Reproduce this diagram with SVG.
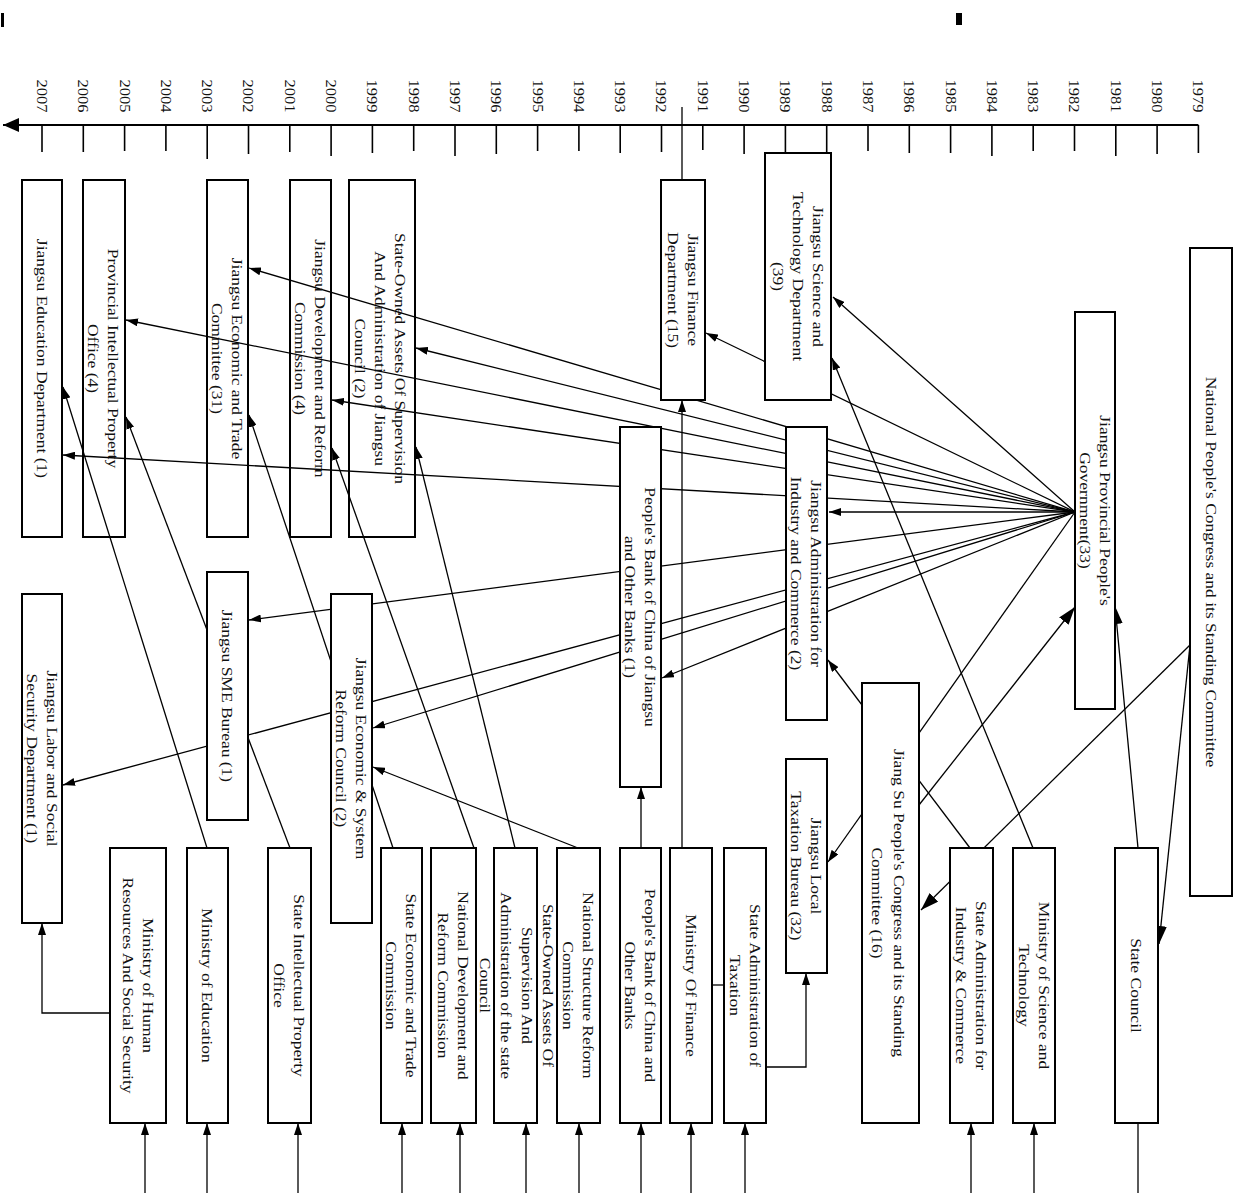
<svg xmlns="http://www.w3.org/2000/svg" width="1242" height="1193" viewBox="0 0 1242 1193">
<style>
.bx{stroke:#000;stroke-width:2;fill:#fff}
.bn{stroke:#000;stroke-width:2;fill:none}
.t{font-family:"Liberation Serif","Times New Roman",serif;font-size:14px;fill:#111;text-anchor:middle;dominant-baseline:central}
.yr{font-family:"Liberation Serif","Times New Roman",serif;font-size:14px;fill:#111;text-anchor:middle;dominant-baseline:central}
.c{stroke:#000;stroke-width:1.3;fill:none;marker-end:url(#a)}
.cl{stroke:#000;stroke-width:1.3;fill:none;marker-end:url(#A)}
.p{stroke:#000;stroke-width:1.3;fill:none}
.tk{stroke:#000;stroke-width:1.6}
</style>
<defs>
<marker id="a" viewBox="0 0 12 8" refX="12" refY="4" markerWidth="12" markerHeight="8" markerUnits="userSpaceOnUse" orient="auto"><path d="M0,0 L12,4 L0,8 z" fill="#000"/></marker>
<marker id="A" viewBox="0 0 18 12" refX="18" refY="6" markerWidth="18" markerHeight="12" markerUnits="userSpaceOnUse" orient="auto"><path d="M0,0 L18,6 L0,12 z" fill="#000"/></marker>
<marker id="ax" viewBox="0 0 16 14" refX="16" refY="7" markerWidth="16" markerHeight="14" markerUnits="userSpaceOnUse" orient="auto"><path d="M0,0 L16,7 L0,14 z" fill="#000"/></marker>
</defs>
<rect width="1242" height="1193" fill="#fff"/>
<rect x="1" y="13" width="3" height="14" fill="#000"/>
<rect x="956" y="13" width="6" height="12" fill="#000"/>

<g id="timeline">
<line x1="1198.4" y1="125" x2="3" y2="125" stroke="#000" stroke-width="2" marker-end="url(#ax)"/>
<g class="tk">
<line x1="42" y1="125" x2="42" y2="152"/><line x1="83.3" y1="125" x2="83.3" y2="152"/><line x1="124.6" y1="125" x2="124.6" y2="151"/><line x1="165.9" y1="125" x2="165.9" y2="151"/><line x1="207.2" y1="125" x2="207.2" y2="159"/><line x1="248.5" y1="125" x2="248.5" y2="154"/><line x1="289.8" y1="125" x2="289.8" y2="152"/><line x1="331.1" y1="125" x2="331.1" y2="156"/><line x1="372.4" y1="125" x2="372.4" y2="153"/><line x1="413.7" y1="125" x2="413.7" y2="151"/><line x1="455" y1="125" x2="455" y2="156"/><line x1="496.3" y1="125" x2="496.3" y2="154"/><line x1="537.6" y1="125" x2="537.6" y2="151"/><line x1="578.9" y1="125" x2="578.9" y2="151"/><line x1="620.2" y1="125" x2="620.2" y2="153"/><line x1="661.5" y1="125" x2="661.5" y2="152"/><line x1="702.8" y1="125" x2="702.8" y2="150"/><line x1="744.1" y1="125" x2="744.1" y2="154"/><line x1="785.4" y1="125" x2="785.4" y2="153"/><line x1="826.7" y1="125" x2="826.7" y2="153"/><line x1="868" y1="125" x2="868" y2="151"/><line x1="909.3" y1="125" x2="909.3" y2="153"/><line x1="950.6" y1="125" x2="950.6" y2="153"/><line x1="991.9" y1="125" x2="991.9" y2="156"/><line x1="1033.2" y1="125" x2="1033.2" y2="151"/><line x1="1074.5" y1="125" x2="1074.5" y2="151"/><line x1="1115.8" y1="125" x2="1115.8" y2="156"/><line x1="1157.1" y1="125" x2="1157.1" y2="154"/><line x1="1198.4" y1="125" x2="1198.4" y2="153"/>
</g>
<g class="yr">
<text transform="translate(42,96) rotate(90) scale(1.18,1)">2007</text>
<text transform="translate(83.3,96) rotate(90) scale(1.18,1)">2006</text>
<text transform="translate(124.6,96) rotate(90) scale(1.18,1)">2005</text>
<text transform="translate(165.9,96) rotate(90) scale(1.18,1)">2004</text>
<text transform="translate(207.2,96) rotate(90) scale(1.18,1)">2003</text>
<text transform="translate(248.5,96) rotate(90) scale(1.18,1)">2002</text>
<text transform="translate(289.8,96) rotate(90) scale(1.18,1)">2001</text>
<text transform="translate(331.1,96) rotate(90) scale(1.18,1)">2000</text>
<text transform="translate(372.4,96) rotate(90) scale(1.18,1)">1999</text>
<text transform="translate(413.7,96) rotate(90) scale(1.18,1)">1998</text>
<text transform="translate(455,96) rotate(90) scale(1.18,1)">1997</text>
<text transform="translate(496.3,96) rotate(90) scale(1.18,1)">1996</text>
<text transform="translate(537.6,96) rotate(90) scale(1.18,1)">1995</text>
<text transform="translate(578.9,96) rotate(90) scale(1.18,1)">1994</text>
<text transform="translate(620.2,96) rotate(90) scale(1.18,1)">1993</text>
<text transform="translate(661.5,96) rotate(90) scale(1.18,1)">1992</text>
<text transform="translate(702.8,96) rotate(90) scale(1.18,1)">1991</text>
<text transform="translate(744.1,96) rotate(90) scale(1.18,1)">1990</text>
<text transform="translate(785.4,96) rotate(90) scale(1.18,1)">1989</text>
<text transform="translate(826.7,96) rotate(90) scale(1.18,1)">1988</text>
<text transform="translate(868,96) rotate(90) scale(1.18,1)">1987</text>
<text transform="translate(909.3,96) rotate(90) scale(1.18,1)">1986</text>
<text transform="translate(950.6,96) rotate(90) scale(1.18,1)">1985</text>
<text transform="translate(991.9,96) rotate(90) scale(1.18,1)">1984</text>
<text transform="translate(1033.2,96) rotate(90) scale(1.18,1)">1983</text>
<text transform="translate(1074.5,96) rotate(90) scale(1.18,1)">1982</text>
<text transform="translate(1115.8,96) rotate(90) scale(1.18,1)">1981</text>
<text transform="translate(1157.1,96) rotate(90) scale(1.18,1)">1980</text>
<text transform="translate(1198.4,96) rotate(90) scale(1.18,1)">1979</text>
</g>
</g>

<g id="connectors">
<line class="c" x1="1075" y1="512" x2="833" y2="297"/>
<line class="c" x1="1075" y1="512" x2="706" y2="333"/>
<line class="c" x1="1075" y1="512" x2="249" y2="268"/>
<line class="c" x1="1075" y1="512" x2="416" y2="348"/>
<line class="c" x1="1075" y1="512" x2="126" y2="320"/>
<line class="c" x1="1075" y1="512" x2="332" y2="400"/>
<line class="c" x1="1075" y1="512" x2="63" y2="455"/>
<line class="c" x1="1075" y1="512" x2="829" y2="512"/>
<line class="c" x1="1075" y1="512" x2="662" y2="678"/>
<line class="c" x1="1075" y1="512" x2="249" y2="620"/>
<line class="c" x1="1075" y1="512" x2="373" y2="728"/>
<line class="c" x1="1075" y1="512" x2="63" y2="785"/>
<line class="c" x1="1075" y1="512" x2="828" y2="862"/>
<line class="c" x1="207" y1="848" x2="63" y2="387"/>
<line class="c" x1="290" y1="848" x2="126" y2="417"/>
<line class="c" x1="393" y1="848" x2="249" y2="415"/>
<line class="c" x1="474" y1="848" x2="332" y2="448"/>
<line class="c" x1="515" y1="848" x2="416" y2="447"/>
<line class="c" x1="578" y1="848" x2="373" y2="767"/>
<line class="c" x1="641" y1="848" x2="641" y2="787"/>
<line class="c" x1="682" y1="848" x2="682" y2="400"/>
<line class="p" x1="682" y1="180" x2="682" y2="107"/>
<line class="c" x1="970" y1="848" x2="828" y2="660"/>
<line class="c" x1="1033" y1="848" x2="832" y2="358"/>
<line class="cl" x1="1138" y1="848" x2="1115" y2="606"/>
<line class="cl" x1="919" y1="805" x2="1075" y2="607"/>
<line class="cl" x1="1190" y1="645" x2="921" y2="910"/>
<line class="cl" x1="1190" y1="645" x2="1159" y2="944"/>
<polyline class="c" points="110,1013 42,1013 42,923"/>
<polyline class="c" points="766,1067 806,1067 806,973"/>
<line class="p" x1="712" y1="985" x2="724" y2="985"/>
<line class="c" x1="145" y1="1193" x2="145" y2="1123"/>
<line class="c" x1="207" y1="1193" x2="207" y2="1123"/>
<line class="c" x1="298" y1="1193" x2="298" y2="1123"/>
<line class="c" x1="402" y1="1193" x2="402" y2="1123"/>
<line class="c" x1="460" y1="1193" x2="460" y2="1123"/>
<line class="c" x1="526" y1="1193" x2="526" y2="1123"/>
<line class="c" x1="579" y1="1193" x2="579" y2="1123"/>
<line class="c" x1="641" y1="1193" x2="641" y2="1123"/>
<line class="c" x1="691" y1="1193" x2="691" y2="1123"/>
<line class="c" x1="745" y1="1193" x2="745" y2="1123"/>
<line class="c" x1="971" y1="1193" x2="971" y2="1123"/>
<line class="c" x1="1034" y1="1193" x2="1034" y2="1123"/>
<line class="p" x1="1138" y1="1123" x2="1138" y2="1193"/>
</g>

<g id="n-edu"><rect class="bx" x="22" y="180" width="40" height="357"/>
<text class="t" transform="translate(42,358.5) rotate(90) scale(1.25,1)"><tspan x="0" y="0">Jiangsu Education Department (1)</tspan></text></g>
<g id="n-ipo"><rect class="bn" x="83" y="180" width="42" height="357"/>
<text class="t" transform="translate(103,358.5) rotate(90) scale(1.25,1)"><tspan x="0" y="-10">Provincial Intellectual Property</tspan><tspan x="0" y="10">Office (4)</tspan></text></g>
<g id="n-etc"><rect class="bn" x="207" y="180" width="41" height="357"/>
<text class="t" transform="translate(227.5,358.5) rotate(90) scale(1.25,1)"><tspan x="0" y="-10">Jiangsu Economic and Trade</tspan><tspan x="0" y="10">Committee (31)</tspan></text></g>
<g id="n-drc"><rect class="bn" x="290" y="180" width="41" height="357"/>
<text class="t" transform="translate(310.5,358.5) rotate(90) scale(1.25,1)"><tspan x="0" y="-10">Jiangsu Development and Reform</tspan><tspan x="0" y="10">Commission (4)</tspan></text></g>
<g id="n-sasacjs"><rect class="bn" x="349" y="180" width="66" height="357"/>
<text class="t" transform="translate(380,358.5) rotate(90) scale(1.25,1)"><tspan x="0" y="-20">State-Owned Assets Of Supervision</tspan><tspan x="0" y="0">And Administration of Jiangsu</tspan><tspan x="0" y="20">Council (2)</tspan></text></g>
<g id="n-fin"><rect class="bx" x="661" y="180" width="44" height="220"/>
<text class="t" transform="translate(683,290) rotate(90) scale(1.25,1)"><tspan x="0" y="-10">Jiangsu Finance</tspan><tspan x="0" y="10">Department (15)</tspan></text></g>
<g id="n-sci"><rect class="bx" x="765" y="153" width="66" height="247"/>
<text class="t" transform="translate(798,276.5) rotate(90) scale(1.25,1)"><tspan x="0" y="-20">Jiangsu Science and</tspan><tspan x="0" y="0">Technology Department</tspan><tspan x="0" y="20">(39)</tspan></text></g>
<g id="n-pbcjs"><rect class="bx" x="620" y="427" width="41" height="360"/>
<text class="t" transform="translate(640.5,607) rotate(90) scale(1.25,1)"><tspan x="0" y="-10">People's Bank of China of Jiangsu</tspan><tspan x="0" y="10">and Other Banks (1)</tspan></text></g>
<g id="n-aic"><rect class="bx" x="786" y="427" width="41" height="293"/>
<text class="t" transform="translate(806.5,573.5) rotate(90) scale(1.25,1)"><tspan x="0" y="-10">Jiangsu Administration for</tspan><tspan x="0" y="10">Industry and Commerce (2)</tspan></text></g>
<g id="n-gov"><rect class="bx" x="1075" y="312" width="40" height="397"/>
<text class="t" transform="translate(1095,510.5) rotate(90) scale(1.25,1)"><tspan x="0" y="-10">Jiangsu Provincial People's</tspan><tspan x="0" y="10">Government(33)</tspan></text></g>
<g id="n-npc"><rect class="bx" x="1190" y="248" width="42" height="648"/>
<text class="t" transform="translate(1211,572) rotate(90) scale(1.25,1)"><tspan x="0" y="0">National People's Congress and its Standing Committee</tspan></text></g>
<g id="n-sme"><rect class="bx" x="207" y="572" width="41" height="248"/>
<text class="t" transform="translate(227.5,696) rotate(90) scale(1.25,1)"><tspan x="0" y="0">Jiangsu SME Bureau (1)</tspan></text></g>
<g id="n-erc"><rect class="bx" x="331" y="594" width="41" height="329"/>
<text class="t" transform="translate(351.5,758.5) rotate(90) scale(1.25,1)"><tspan x="0" y="-10">Jiangsu Economic &amp; System</tspan><tspan x="0" y="10">Reform Council (2)</tspan></text></g>
<g id="n-labor"><rect class="bx" x="22" y="594" width="40" height="329"/>
<text class="t" transform="translate(42,758.5) rotate(90) scale(1.25,1)"><tspan x="0" y="-10">Jiangsu Labor and Social</tspan><tspan x="0" y="10">Security Department (1)</tspan></text></g>
<g id="n-ltax"><rect class="bx" x="786" y="759" width="41" height="214"/>
<text class="t" transform="translate(806.5,866) rotate(90) scale(1.25,1)"><tspan x="0" y="-10">Jiangsu Local</tspan><tspan x="0" y="10">Taxation Bureau (32)</tspan></text></g>
<g id="n-jspc"><rect class="bx" x="862" y="683" width="57" height="440"/>
<text class="t" transform="translate(888,903) rotate(90) scale(1.25,1)"><tspan x="0" y="-11">Jiang Su People's Congress and its Standing</tspan><tspan x="0" y="11">Committee  (16)</tspan></text></g>
<g id="n-mhr"><rect class="bx" x="110" y="848" width="56" height="275"/>
<text class="t" transform="translate(138,985.5) rotate(90) scale(1.25,1)"><tspan x="0" y="-10">Ministry of Human</tspan><tspan x="0" y="10">Resources And Social Security</tspan></text></g>
<g id="n-moe"><rect class="bx" x="187" y="848" width="41" height="275"/>
<text class="t" transform="translate(207.5,985.5) rotate(90) scale(1.25,1)"><tspan x="0" y="0">Ministry of Education</tspan></text></g>
<g id="n-sipo"><rect class="bx" x="268" y="848" width="43" height="275"/>
<text class="t" transform="translate(289.5,985.5) rotate(90) scale(1.25,1)"><tspan x="0" y="-10">State Intellectual Property</tspan><tspan x="0" y="10">Office</tspan></text></g>
<g id="n-setc"><rect class="bx" x="381" y="848" width="41" height="275"/>
<text class="t" transform="translate(401.5,985.5) rotate(90) scale(1.25,1)"><tspan x="0" y="-10">State Economic and Trade</tspan><tspan x="0" y="10">Commission</tspan></text></g>
<g id="n-ndrc"><rect class="bx" x="431" y="848" width="45" height="275"/>
<text class="t" transform="translate(453.5,985.5) rotate(90) scale(1.25,1)"><tspan x="0" y="-10">National Development and</tspan><tspan x="0" y="10">Reform Commission</tspan></text></g>
<g id="n-sasac"><rect class="bx" x="494" y="848" width="43" height="275"/>
<text class="t" transform="translate(517,985.5) rotate(90) scale(1.25,1)"><tspan x="0" y="-31.5">State-Owned Assets Of</tspan><tspan x="0" y="-10.5">Supervision And</tspan><tspan x="0" y="10.5">Administration of the state</tspan><tspan x="0" y="31.5">Council</tspan></text></g>
<g id="n-nsrc"><rect class="bx" x="557" y="848" width="43" height="275"/>
<text class="t" transform="translate(578.5,985.5) rotate(90) scale(1.25,1)"><tspan x="0" y="-10">National Structure Reform</tspan><tspan x="0" y="10">Commission</tspan></text></g>
<g id="n-pbc"><rect class="bx" x="620" y="848" width="41" height="275"/>
<text class="t" transform="translate(640.5,985.5) rotate(90) scale(1.25,1)"><tspan x="0" y="-10">People's Bank of China and</tspan><tspan x="0" y="10">Other Banks</tspan></text></g>
<g id="n-mof"><rect class="bx" x="670" y="848" width="42" height="275"/>
<text class="t" transform="translate(691,985.5) rotate(90) scale(1.25,1)"><tspan x="0" y="0">Ministry Of Finance</tspan></text></g>
<g id="n-sat"><rect class="bx" x="724" y="848" width="42" height="275"/>
<text class="t" transform="translate(745,985.5) rotate(90) scale(1.25,1)"><tspan x="0" y="-10">State Administration of</tspan><tspan x="0" y="10">Taxation</tspan></text></g>
<g id="n-saic"><rect class="bx" x="950" y="848" width="43" height="275"/>
<text class="t" transform="translate(971.5,985.5) rotate(90) scale(1.25,1)"><tspan x="0" y="-10">State Administration for</tspan><tspan x="0" y="10">Industry &amp; Commerce</tspan></text></g>
<g id="n-most"><rect class="bx" x="1013" y="848" width="42" height="275"/>
<text class="t" transform="translate(1034,985.5) rotate(90) scale(1.25,1)"><tspan x="0" y="-10">Ministry of Science and</tspan><tspan x="0" y="10">Technology</tspan></text></g>
<g id="n-sc"><rect class="bx" x="1115" y="848" width="43" height="275"/>
<text class="t" transform="translate(1136.5,985.5) rotate(90) scale(1.25,1)"><tspan x="0" y="0">State Council</tspan></text></g>
</svg>
